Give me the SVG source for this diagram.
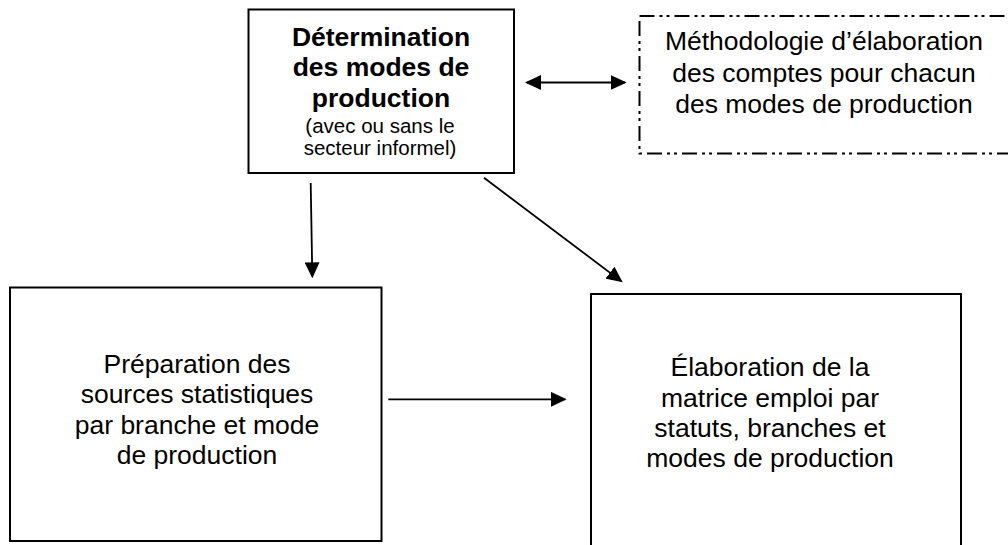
<svg xmlns="http://www.w3.org/2000/svg" width="1008" height="545" viewBox="0 0 1008 545">
<style>
  .box { fill: #fff; stroke: #000; stroke-width: 2; }
  .dashbox { fill: #fff; stroke: #000; stroke-width: 2; stroke-dasharray: 15 5 3 4 3 5; }
  .t { font-family: "Liberation Sans", Arial, sans-serif; font-size: 26.5px; fill: #000; text-anchor: middle; }
  .b { font-weight: bold; }
  .s { font-size: 20.5px; }
  .c { fill: none; stroke: #000; stroke-width: 1.8; }
</style>
<defs>
  <marker id="ah" viewBox="0 0 16 15" refX="14" refY="7.5" markerWidth="16" markerHeight="15" markerUnits="userSpaceOnUse" orient="auto-start-reverse">
    <path d="M0,0 L16,7.5 L0,15 Z" fill="#000"/>
  </marker>
</defs>
<rect width="1008" height="545" fill="#fff"/>

<g id="node-determination">
  <rect class="box" x="248.5" y="9.5" width="265.5" height="163.5" stroke-width="2.6"/>
  <text class="t b" x="381" y="45.5">Détermination</text>
  <text class="t b" x="381" y="76">des modes de</text>
  <text class="t b" x="381" y="106.5">production</text>
  <text class="t s" x="380" y="133">(avec ou sans le</text>
  <text class="t s" x="380" y="155">secteur informel)</text>
</g>

<g id="node-methodologie">
  <rect class="dashbox" x="639.5" y="16" width="380" height="137.5"/>
  <text class="t" x="824" y="50">Méthodologie d’élaboration</text>
  <text class="t" x="824" y="81.5">des comptes pour chacun</text>
  <text class="t" x="824" y="112.5">des modes de production</text>
</g>

<g id="node-preparation">
  <rect class="box" x="10" y="287.5" width="371.5" height="253.5"/>
  <text class="t" x="197" y="372.5">Préparation des</text>
  <text class="t" x="197" y="403">sources statistiques</text>
  <text class="t" x="197" y="433.5">par branche et mode</text>
  <text class="t" x="197" y="464">de production</text>
</g>

<g id="node-elaboration">
  <rect class="box" x="591" y="294" width="370" height="270"/>
  <text class="t" x="770" y="376">Élaboration de la</text>
  <text class="t" x="770" y="406.5">matrice emploi par</text>
  <text class="t" x="770" y="437">statuts, branches et</text>
  <text class="t" x="770" y="467">modes de production</text>
</g>

<g id="connectors">
  <path class="c" d="M527,82.5 L624.7,82.5" stroke-width="2.3" marker-start="url(#ah)" marker-end="url(#ah)"/>
  <path class="c" d="M310.7,183 L312.3,276.3" marker-end="url(#ah)"/>
  <path class="c" d="M484,177.7 L621.1,281.1" marker-end="url(#ah)"/>
  <path class="c" d="M388.3,399.3 L564.7,399.3" marker-end="url(#ah)"/>
</g>
</svg>
